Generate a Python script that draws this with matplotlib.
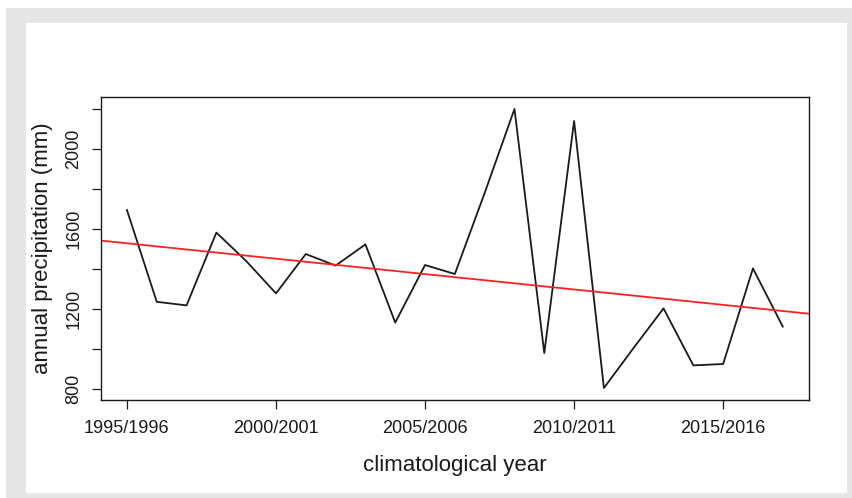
import numpy as np
import matplotlib
matplotlib.use("Agg")
from matplotlib import pyplot as plt
from matplotlib.patches import Rectangle

plt.rcParams["font.family"] = ["Liberation Sans", "DejaVu Sans"]

# climatological years 1995/1996 .. 2017/2018 (index 0..22)
years = list(range(1995, 2018))
precip = [1695, 1236, 1218, 1582, 1440, 1278, 1475, 1417, 1523, 1132,
          1420, 1375, 1780, 2200, 980, 2140, 805, 1006, 1203, 918,
          925, 1403, 1112]
tick_years = [1995, 2000, 2005, 2010, 2015]
tick_labels = ["1995/1996", "2000/2001", "2005/2006", "2010/2011", "2015/2016"]
yticks = [800, 1000, 1200, 1400, 1600, 1800, 2000, 2200]
ylabels_shown = [800, 1200, 1600, 2000]

W, H = 853, 498
fig = plt.figure(figsize=(W / 100, H / 100), dpi=100)
fig.patch.set_facecolor("white")
# grey frame and white panel behind the plot
fig.patches.append(Rectangle((6 / W, 0), 1, 1 - 8 / H, transform=fig.transFigure,
                             facecolor="#e6e6e6", edgecolor="none", zorder=-2))
fig.patches.append(Rectangle((26 / W, 5 / H), (847 - 26) / W, (493 - 23) / H,
                             transform=fig.transFigure, facecolor="white",
                             edgecolor="none", zorder=-1))

ax = fig.add_axes([101 / W, (H - 400) / H, (809 - 101) / W, (400 - 97) / H])
ax.patch.set_alpha(0)

x = np.array(years)
y = np.array(precip)
ax.plot(x, y, color="#1a1a1a", lw=1.3)

# linear trend
b, a = np.polyfit(x, y, 1)
xl = np.array([1990, 2025])
ax.plot(xl, a + b * xl, color="#ff2020", lw=1.3)

ax.set_xlim(1995 - 0.87, 2017 + 0.88)
ax.set_ylim(745, 2260)

ax.set_xticks(tick_years)
ax.set_xticklabels(tick_labels)
ax.set_yticks(yticks)
ax.set_yticklabels([str(v) if v in ylabels_shown else "" for v in yticks],
                   rotation=90, va="center")
ax.tick_params(direction="out", length=6.5, width=0.9, labelsize=13,
               colors="#1a1a1a")
ax.tick_params(axis="x", pad=8)
ax.tick_params(axis="y", pad=7)
for s in ax.spines.values():
    s.set_linewidth(1.0)
    s.set_color("#1a1a1a")

ax.set_xlabel("climatological year", fontsize=16, color="#1a1a1a", labelpad=13)
ax.set_ylabel("annual precipitation (mm)", fontsize=16, color="#1a1a1a", labelpad=9)

fig.savefig("out.png", dpi=100)
